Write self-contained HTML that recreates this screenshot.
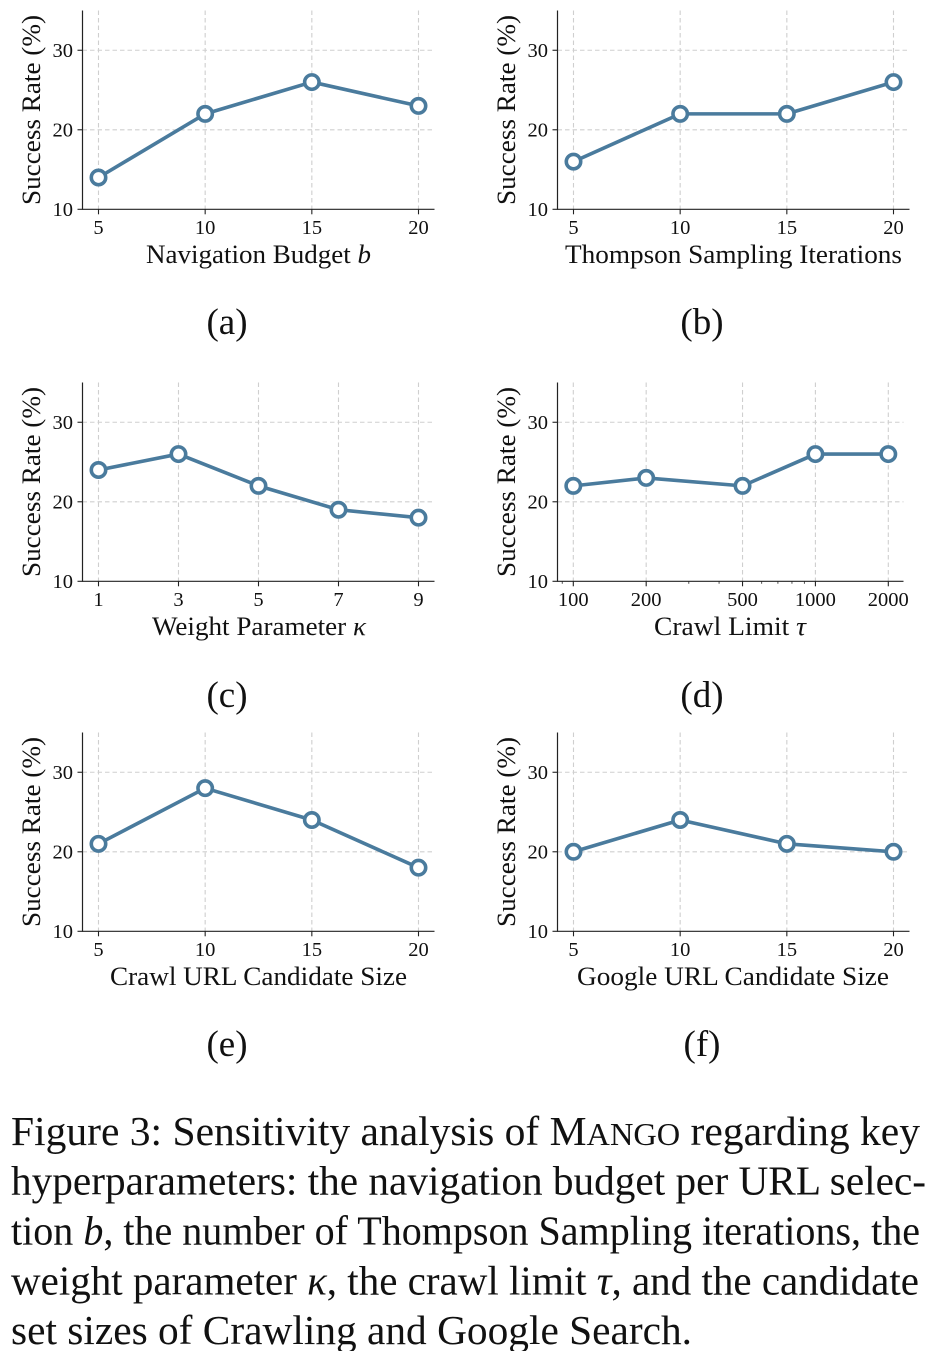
<!DOCTYPE html>
<html lang="en">
<head>
<meta charset="utf-8">
<title>Figure 3: Sensitivity analysis of Mango</title>
<style>
html,body{margin:0;padding:0;background:#fff;}
svg{display:block;}
text{font-family:"Liberation Serif",serif;fill:#111;}
.xt{font-size:26px;}
.yt{font-size:26px;}
.sub{font-size:37px;text-anchor:middle;}
.cap{font-size:41px;}
.it{font-style:italic;}
</style>
</head>
<body>
<svg id="figure" width="934" height="1351" viewBox="0 0 934 1351" xmlns="http://www.w3.org/2000/svg">
  <rect width="934" height="1351" fill="#fff"/>
  <g id="plots"></g>

  <text class="yt" transform="translate(40,205) rotate(-90)" textLength="190" lengthAdjust="spacingAndGlyphs">Success Rate (%)</text>
  <text class="yt" transform="translate(515,205) rotate(-90)" textLength="190" lengthAdjust="spacingAndGlyphs">Success Rate (%)</text>
  <text class="yt" transform="translate(40,577) rotate(-90)" textLength="190" lengthAdjust="spacingAndGlyphs">Success Rate (%)</text>
  <text class="yt" transform="translate(515,577) rotate(-90)" textLength="190" lengthAdjust="spacingAndGlyphs">Success Rate (%)</text>
  <text class="yt" transform="translate(40,927) rotate(-90)" textLength="190" lengthAdjust="spacingAndGlyphs">Success Rate (%)</text>
  <text class="yt" transform="translate(515,927) rotate(-90)" textLength="190" lengthAdjust="spacingAndGlyphs">Success Rate (%)</text>

  <text class="xt" x="146" y="263" textLength="225" lengthAdjust="spacingAndGlyphs">Navigation Budget <tspan class="it">b</tspan></text>
  <text class="xt" x="565" y="263" textLength="337" lengthAdjust="spacingAndGlyphs">Thompson Sampling Iterations</text>
  <text class="xt" x="152" y="635" textLength="214" lengthAdjust="spacingAndGlyphs">Weight Parameter <tspan class="it">κ</tspan></text>
  <text class="xt" x="654" y="635" textLength="152" lengthAdjust="spacingAndGlyphs">Crawl Limit <tspan class="it">τ</tspan></text>
  <text class="xt" x="110" y="985" textLength="297" lengthAdjust="spacingAndGlyphs">Crawl URL Candidate Size</text>
  <text class="xt" x="577" y="985" textLength="312" lengthAdjust="spacingAndGlyphs">Google URL Candidate Size</text>

  <text class="sub" x="227" y="334">(a)</text>
  <text class="sub" x="702" y="334">(b)</text>
  <text class="sub" x="227" y="707">(c)</text>
  <text class="sub" x="702" y="707">(d)</text>
  <text class="sub" x="227" y="1056">(e)</text>
  <text class="sub" x="702" y="1056">(f)</text>

  <g>
    <text class="cap" x="11" y="1145" textLength="909" lengthAdjust="spacingAndGlyphs">Figure 3: Sensitivity analysis of M<tspan font-size="32">ANGO</tspan> regarding key</text>
    <text class="cap" x="11" y="1194.5" textLength="915" lengthAdjust="spacingAndGlyphs">hyperparameters: the navigation budget per URL selec-</text>
    <text class="cap" x="11" y="1244.5" textLength="909" lengthAdjust="spacingAndGlyphs">tion <tspan class="it">b</tspan>, the number of Thompson Sampling iterations, the</text>
    <text class="cap" x="11" y="1294.5" textLength="908" lengthAdjust="spacingAndGlyphs">weight parameter <tspan class="it">κ</tspan>, the crawl limit <tspan class="it">τ</tspan>, and the candidate</text>
    <text class="cap" x="11" y="1344" textLength="681" lengthAdjust="spacingAndGlyphs">set sizes of Crawling and Google Search.</text>
  </g>
</svg>
<script>
const yTickValues = [10, 20, 30];
const yDomain = [10, 35];

const categoriesA = [5, 10, 15, 20];
const valuesA = [14, 22, 26, 23];
const categoriesB = [5, 10, 15, 20];
const valuesB = [16, 22, 22, 26];
const categoriesC = [1, 3, 5, 7, 9];
const valuesC = [24, 26, 22, 19, 18];
const categoriesD = [100, 200, 500, 1000, 2000];
const minorTicksD = [90, 300, 400, 600, 700, 800, 900];
const valuesD = [22, 23, 22, 26, 26];
const categoriesE = [5, 10, 15, 20];
const valuesE = [21, 28, 24, 18];
const categoriesF = [5, 10, 15, 20];
const valuesF = [20, 24, 21, 20];

const panels = [
  {id: 'a', cats: categoriesA, vals: valuesA, left: 82.5, right: 434.5, first: 98.5, last: 418.5, bottom: 209.3, log: false, minor: []},
  {id: 'b', cats: categoriesB, vals: valuesB, left: 557.5, right: 909.5, first: 573.5, last: 893.5, bottom: 209.3, log: false, minor: []},
  {id: 'c', cats: categoriesC, vals: valuesC, left: 82.5, right: 434.5, first: 98.5, last: 418.5, bottom: 581.3, log: false, minor: []},
  {id: 'd', cats: categoriesD, vals: valuesD, left: 557.5, right: 903.5, first: 573.3, last: 888.3, bottom: 581.3, log: true, minor: minorTicksD},
  {id: 'e', cats: categoriesE, vals: valuesE, left: 82.5, right: 434.5, first: 98.5, last: 418.5, bottom: 931.3, log: false, minor: []},
  {id: 'f', cats: categoriesF, vals: valuesF, left: 557.5, right: 909.5, first: 573.5, last: 893.5, bottom: 931.3, log: false, minor: []}
];

const NS = 'http://www.w3.org/2000/svg';
const plotHeight = 198.8;
const lineColor = '#4a7b9d';
const gridColor = '#cfcfcf';
const root = document.getElementById('plots');

function makeLine(parent, x1, y1, x2, y2, stroke, width, dash) {
  const l = document.createElementNS(NS, 'line');
  l.setAttribute('x1', x1);
  l.setAttribute('y1', y1);
  l.setAttribute('x2', x2);
  l.setAttribute('y2', y2);
  l.setAttribute('stroke', stroke);
  l.setAttribute('stroke-width', width);
  if (dash) l.setAttribute('stroke-dasharray', dash);
  parent.appendChild(l);
  return l;
}

function makeLabel(parent, x, y, anchor, content) {
  const t = document.createElementNS(NS, 'text');
  t.setAttribute('x', x);
  t.setAttribute('y', y);
  t.setAttribute('text-anchor', anchor);
  t.setAttribute('font-size', '20.5');
  t.textContent = content;
  parent.appendChild(t);
  return t;
}

panels.forEach(function (p) {
  const first = p.cats[0];
  const last = p.cats[p.cats.length - 1];
  const xScale = function (v) {
    const f = p.log
      ? (Math.log10(v) - Math.log10(first)) / (Math.log10(last) - Math.log10(first))
      : (v - first) / (last - first);
    return p.first + f * (p.last - p.first);
  };
  const yScale = function (v) {
    return p.bottom - (v - yDomain[0]) / (yDomain[1] - yDomain[0]) * plotHeight;
  };
  const top = yScale(yDomain[1]);

  const g = document.createElementNS(NS, 'g');
  
  
  root.appendChild(g);

  yTickValues.forEach(function (v) {
    const y = yScale(v);
    if (v !== yDomain[0]) {
      const grid = makeLine(g, p.left, y, p.right, y, gridColor, 1.1, '4.5 3');
      
      
    }
    const tick = makeLine(g, p.left - 5, y, p.left, y, '#222', 1.1);
    
    
    const label = makeLabel(g, p.left - 9.5, y + 6.5, 'end', String(v));
    
    
  });

  p.cats.forEach(function (c) {
    const x = xScale(c);
    const grid = makeLine(g, x, top, x, p.bottom, gridColor, 1.1, '4.5 3');
    
    
    const tick = makeLine(g, x, p.bottom, x, p.bottom + 5, '#222', 1.1);
    
    
    const label = makeLabel(g, x, p.bottom + 24.7, 'middle', String(c));
    
    
  });

  p.minor.forEach(function (c) {
    const x = xScale(c);
    const tick = makeLine(g, x, p.bottom, x, p.bottom + 2.5, '#222', 0.8);
    
    
  });

  const yAxis = makeLine(g, p.left, top, p.left, p.bottom + 0.5, '#222', 1.2);
  
  
  const xAxis = makeLine(g, p.left, p.bottom, p.right, p.bottom, '#222', 1.2);
  
  

  const path = document.createElementNS(NS, 'polyline');
  path.setAttribute('points', p.cats.map(function (c, i) {
    return xScale(c) + ',' + yScale(p.vals[i]);
  }).join(' '));
  path.setAttribute('fill', 'none');
  path.setAttribute('stroke', lineColor);
  path.setAttribute('stroke-width', '3.6');
  path.setAttribute('stroke-linejoin', 'round');
  
  
  g.appendChild(path);

  p.cats.forEach(function (c, i) {
    const dot = document.createElementNS(NS, 'circle');
    dot.setAttribute('cx', xScale(c));
    dot.setAttribute('cy', yScale(p.vals[i]));
    dot.setAttribute('r', '7.2');
    dot.setAttribute('fill', '#fff');
    dot.setAttribute('stroke', lineColor);
    dot.setAttribute('stroke-width', '3.6');
    
    
    g.appendChild(dot);
  });
});
</script>
</body>
</html>
